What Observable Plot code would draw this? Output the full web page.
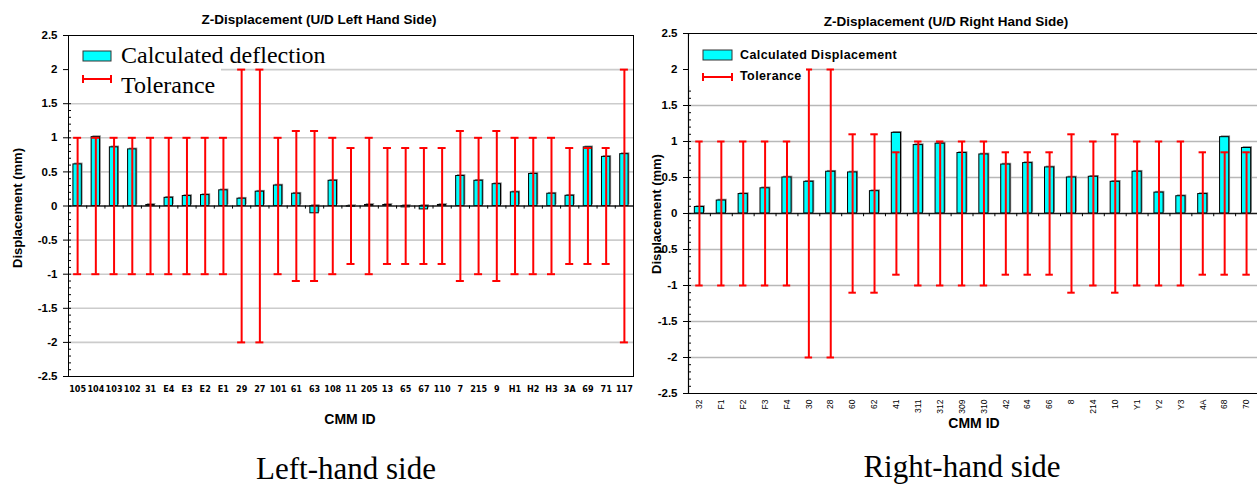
<!DOCTYPE html>
<html>
<head>
<meta charset="utf-8">
<script src="https://cdn.jsdelivr.net/npm/d3@7"></script>
<script src="https://cdn.jsdelivr.net/npm/@observablehq/plot@0.6"></script>
<style>
  html, body { margin: 0; padding: 0; background: #fff; }
  #wrap { position: relative; width: 1257px; height: 485px; overflow: hidden; background: #fff; }
  #left { position: absolute; left: 0; top: 0; }
  #right { position: absolute; left: 640px; top: 0; }
  #overlay { position: absolute; left: 0; top: 0; pointer-events: none; }
</style>
</head>
<body>
<div id="wrap">
  <div id="left"></div>
  <div id="right"></div>
  <svg id="overlay" width="1257" height="485" xmlns="http://www.w3.org/2000/svg"></svg>
</div>
<script>
// ---------------- data ----------------
const leftIds = ["105","104","103","102","31","E4","E3","E2","E1","29","27","101","61","63","108","11","205","13","65","67","110","7","215","9","H1","H2","H3","3A","69","71","117"];
const leftDeflection = [0.61,1.01,0.86,0.83,0.015,0.12,0.146,0.16,0.23,0.107,0.21,0.30,0.18,-0.107,0.37,-0.01,0.015,0.015,-0.02,-0.05,0.015,0.44,0.37,0.32,0.20,0.47,0.18,0.15,0.86,0.72,0.76];
const leftTolerance = [1,1,1,1,1,1,1,1,1,2,2,1,1.1,1.1,1,0.85,1,0.85,0.85,0.85,0.85,1.1,1,1.1,1,1,1,0.85,0.85,0.85,2];

const rightIds = ["32","F1","F2","F3","F4","30","28","60","62","41","311","312","309","310","42","64","66","8","214","10","Y1","Y2","Y3","4A","68","70"];
const rightDisplacement = [0.09,0.18,0.27,0.35,0.50,0.44,0.58,0.57,0.31,1.12,0.95,0.97,0.84,0.82,0.68,0.70,0.64,0.50,0.51,0.44,0.58,0.29,0.24,0.27,1.06,0.91];
const rightTolerance = [1,1,1,1,1,2,2,1.1,1.1,0.85,1,1,1,1,0.85,0.85,0.85,1.1,1,1.1,1,1,1,0.85,0.85,0.85];

const yTicks = [-2.5,-2,-1.5,-1,-0.5,0,0.5,1,1.5,2,2.5];
const gridLevels = [-2,-1.5,-1,-0.5,0.5,1,1.5,2];
const minorTicks = d3.range(-25, 26).map(k => k / 10);

const leftTitle = "Z-Displacement (U/D Left Hand Side)";
const rightTitle = "Z-Displacement (U/D Right Hand Side)";
const yLabel = "Displacement (mm)";
const xLabel = "CMM ID";
const leftLegend = ["Calculated deflection", "Tolerance"];
const rightLegend = ["Calculated Displacement", "Tolerance"];
const captions = ["Left-hand side", "Right-hand side"];

const SANS = "'Liberation Sans', Arial, sans-serif";
const NARROW = "'Liberation Sans Narrow', 'Arial Narrow', 'DejaVu Sans Condensed', 'Liberation Sans', sans-serif";
const SERIF = "'Liberation Serif', 'Times New Roman', serif";

function makeChart(cfg) {
  const data = cfg.ids.map((id, i) => ({ i, id, v: cfg.values[i], t: cfg.tol[i] }));
  const n = cfg.ids.length;
  const boundaries = d3.range(0, n - 1).map(k => k + 0.5);
  const bh = cfg.barHalf, ch = cfg.capHalf;
  const marks = [
    Plot.ruleY(gridLevels, { stroke: cfg.gridColor, strokeWidth: 1.6 }),
    Plot.rectY(data, { x1: d => d.i - bh, x2: d => d.i + bh, y: "v", fill: "#8a8a8a", dx: 1.3, dy: -1.3 }),
    Plot.rectY(data, { x1: d => d.i - bh, x2: d => d.i + bh, y: "v", fill: "#00ffff", stroke: "#000", strokeWidth: 1 }),
    Plot.ruleY([0], { stroke: "#1a1a1a", strokeWidth: 1.5 }),
    Plot.ruleX(boundaries, { y1: 0, y2: -0.045, stroke: "#000", strokeWidth: 1 }),
    Plot.ruleX(data, { x: "i", y1: d => -d.t, y2: d => d.t, stroke: "#ff0000", strokeWidth: 2 }),
    Plot.ruleY(data, { x1: d => d.i - ch, x2: d => d.i + ch, y: d => d.t, stroke: "#ff0000", strokeWidth: 2 }),
    Plot.ruleY(data, { x1: d => d.i - ch, x2: d => d.i + ch, y: d => -d.t, stroke: "#ff0000", strokeWidth: 2 }),
    Plot.axisY({ ticks: yTicks, tickSize: 5, tickPadding: cfg.yPad, tickFormat: d => String(d), fontSize: 11.5, fontWeight: "bold", fontFamily: SANS, label: null }),
    Plot.axisY({ ticks: minorTicks, tickSize: 3, tickFormat: () => "", dx: 3, label: null }),
    Plot.axisX({ ticks: data.map(d => d.i), tickSize: 0, tickPadding: cfg.xPad, tickRotate: cfg.rotate,
      tickFormat: i => cfg.ids[i], fontSize: cfg.xFont, fontWeight: cfg.xWeight, fontFamily: cfg.xFamily, label: null })
  ];
  if (cfg.fullFrame) marks.push(Plot.frame({ stroke: "#000", strokeWidth: 1 }));
  else {
    marks.push(Plot.ruleY([-2.5, 2.5], { stroke: "#000", strokeWidth: 1.2 }));
    marks.push(Plot.ruleX([-0.5], { stroke: "#000", strokeWidth: 1.2 }));
  }
  return Plot.plot({
    width: cfg.width, height: cfg.height,
    marginLeft: cfg.mL, marginRight: cfg.mR, marginTop: cfg.mT, marginBottom: cfg.mB,
    x: { type: "linear", domain: [-0.5, n - 0.5], axis: null, label: null },
    y: { domain: [-2.5, 2.5], axis: null, label: null },
    style: { fontFamily: SANS, background: "transparent", overflow: "visible" },
    marks
  });
}

document.getElementById("left").append(makeChart({
  ids: leftIds, values: leftDeflection, tol: leftTolerance,
  width: 640, height: 400, mL: 68, mR: 7, mT: 35, mB: 24,
  barHalf: 0.23, capHalf: 0.22, gridColor: "#cccccc", yPad: 6,
  xPad: 9, rotate: 0, xFont: 9, xWeight: "bold", xFamily: NARROW, fullFrame: true
}));

document.getElementById("right").append(makeChart({
  ids: rightIds, values: rightDisplacement, tol: rightTolerance,
  width: 617, height: 430, mL: 48, mR: 0, mT: 33, mB: 37,
  barHalf: 0.21, capHalf: 0.17, gridColor: "#b8b8b8", yPad: 6,
  xPad: 6, rotate: -90, xFont: 8.5, xWeight: "normal", xFamily: SANS, fullFrame: false
}));

// ---------------- overlay: titles, labels, legends, captions ----------------
const ov = d3.select("#overlay");
function txt(x, y, s, o = {}) {
  const t = ov.append("text").attr("x", x).attr("y", y).text(s)
    .attr("font-family", o.family || SANS).attr("font-size", o.size || 14)
    .attr("font-weight", o.weight || "normal").attr("text-anchor", o.anchor || "start")
    .attr("fill", "#000");
  if (o.rotate) t.attr("transform", `rotate(${o.rotate},${x},${y})`);
  if (o.ls) t.attr("letter-spacing", o.ls);
  return t;
}
function tolSymbol(x1, x2, y) {
  ov.append("line").attr("x1", x1).attr("x2", x2).attr("y1", y).attr("y2", y).attr("stroke", "#ff0000").attr("stroke-width", 2);
  ov.append("line").attr("x1", x1).attr("x2", x1).attr("y1", y - 4).attr("y2", y + 4).attr("stroke", "#ff0000").attr("stroke-width", 2);
  ov.append("line").attr("x1", x2).attr("x2", x2).attr("y1", y - 4).attr("y2", y + 4).attr("stroke", "#ff0000").attr("stroke-width", 2);
}

// titles
txt(319, 24, leftTitle, { anchor: "middle", weight: "bold", size: 13.5 });
txt(946, 26, rightTitle, { anchor: "middle", weight: "bold", size: 13.5 });
// y labels
txt(22, 208, yLabel, { anchor: "middle", weight: "bold", size: 13, rotate: -90 });
txt(661, 214, yLabel, { anchor: "middle", weight: "bold", size: 13, rotate: -90 });
// x labels
txt(350, 424, xLabel, { anchor: "middle", weight: "bold", size: 14 });
txt(974, 428, xLabel, { anchor: "middle", weight: "bold", size: 14 });

// left legend
ov.append("rect").attr("x", 69).attr("y", 36).attr("width", 152).attr("height", 64).attr("fill", "#fff");
ov.append("rect").attr("x", 83).attr("y", 51).attr("width", 28).attr("height", 10).attr("fill", "#00ffff").attr("stroke", "#333").attr("stroke-width", 1);
txt(121, 63, leftLegend[0], { family: SERIF, size: 24 });
tolSymbol(83, 111, 79);
txt(121, 93, leftLegend[1], { family: SERIF, size: 24 });

// right legend
ov.append("rect").attr("x", 689).attr("y", 36).attr("width", 117).attr("height", 50).attr("fill", "#fff");
ov.append("rect").attr("x", 703).attr("y", 50).attr("width", 29).attr("height", 10).attr("fill", "#00ffff").attr("stroke", "#333").attr("stroke-width", 1);
txt(740, 59, rightLegend[0], { weight: "bold", size: 12.5, ls: 0.4 });
tolSymbol(703, 732, 77);
txt(740, 80, rightLegend[1], { weight: "bold", size: 12.5, ls: 0.4 });

// captions
txt(346, 479, captions[0], { family: SERIF, size: 31, anchor: "middle" });
txt(962, 477, captions[1], { family: SERIF, size: 31, anchor: "middle" });
</script>
</body>
</html>
